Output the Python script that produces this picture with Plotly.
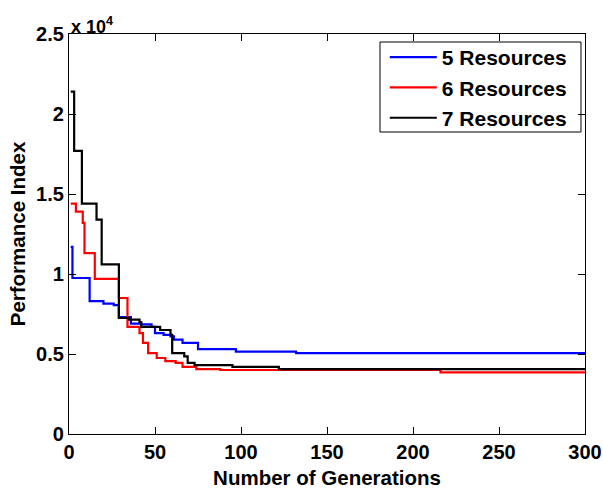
import plotly.graph_objects as go

# Best performance index per generation (step changes only)
gen_5 = [1, 2, 12, 20, 26, 29, 36, 42, 48, 50, 55, 59, 61, 66, 75, 97, 132, 300]
perf_5 = [11700, 9750, 8300, 8150, 8050, 7300, 6900, 6850, 6700, 6300, 6200, 6100,
          5900, 5700, 5300, 5150, 5050, 5050]

gen_6 = [1, 4, 8, 9, 15, 29, 34, 41, 43, 46, 51, 56, 62, 66, 74, 88, 216, 300]
perf_6 = [14400, 13900, 13200, 11300, 9700, 8500, 6700, 6300, 5700, 5050, 4750, 4550,
          4450, 4200, 4050, 4000, 3850, 3850]

gen_7 = [1, 3, 7.5, 16, 19, 29, 35, 41, 42, 53, 59, 60, 67, 69, 73, 95, 122, 300]
perf_7 = [21400, 17700, 14400, 13400, 10600, 7250, 7150, 7000, 6700, 6500, 6200, 5050,
          4850, 4450, 4300, 4200, 4060, 4060]

series = [
    ("5 Resources", gen_5, perf_5, "#0000ff"),
    ("6 Resources", gen_6, perf_6, "#ff0000"),
    ("7 Resources", gen_7, perf_7, "#000000"),
]

y_ticks = [0, 5000, 10000, 15000, 20000, 25000]
y_tick_text = ["0", "0.5", "1", "1.5", "2", "2.5"]
x_ticks = [0, 50, 100, 150, 200, 250, 300]

FONT = "Liberation Sans, Arial, sans-serif"

fig = go.Figure()
for name, xs, ys, color in series:
    fig.add_trace(go.Scatter(
        x=xs, y=ys, name=name, mode="lines",
        line=dict(color=color, width=2.2, shape="hv"),
    ))

axis_common = dict(
    showgrid=False, zeroline=False, showline=True, linecolor="black", linewidth=1.2,
    mirror="ticks", ticks="inside", ticklen=7, tickcolor="black", tickwidth=1,
    automargin=False,
    tickfont=dict(family=FONT, size=20, color="black", weight="bold"),
)

fig.update_layout(
    width=603, height=494,
    margin=dict(l=69, r=18, t=34, b=60),
    paper_bgcolor="white", plot_bgcolor="white",
    xaxis=dict(range=[0, 300], tickvals=x_ticks,
               title=dict(text="Number of Generations", standoff=8,
                          font=dict(family=FONT, size=20.5, color="black", weight="bold")),
               **axis_common),
    yaxis=dict(range=[0, 25000], tickvals=y_ticks, ticktext=y_tick_text,
               title=dict(text="Performance Index", standoff=4,
                          font=dict(family=FONT, size=20.5, color="black", weight="bold")),
               **axis_common),
    legend=dict(
        x=0.612, y=0.9925, xanchor="left", yanchor="top",
        bgcolor="rgba(0,0,0,0)", borderwidth=0,
        font=dict(family=FONT, size=21, color="black", weight="bold"),
        itemwidth=47,
    ),
    showlegend=True,
    # legend frame
    shapes=[dict(
        type="rect", xref="paper", yref="paper",
        x0=0.6027, x1=0.9922, y0=0.755, y1=0.98,
        line=dict(color="black", width=1), fillcolor="white", layer="below",
    )],
    annotations=[dict(
        text="x 10<sup>4</sup>", xref="paper", yref="paper", x=0.0, y=1.0,
        xanchor="left", yanchor="bottom", showarrow=False, xshift=0, yshift=-5,
        font=dict(family=FONT, size=18, color="black", weight="bold"),
    )],
)

fig.write_html("out.html")
